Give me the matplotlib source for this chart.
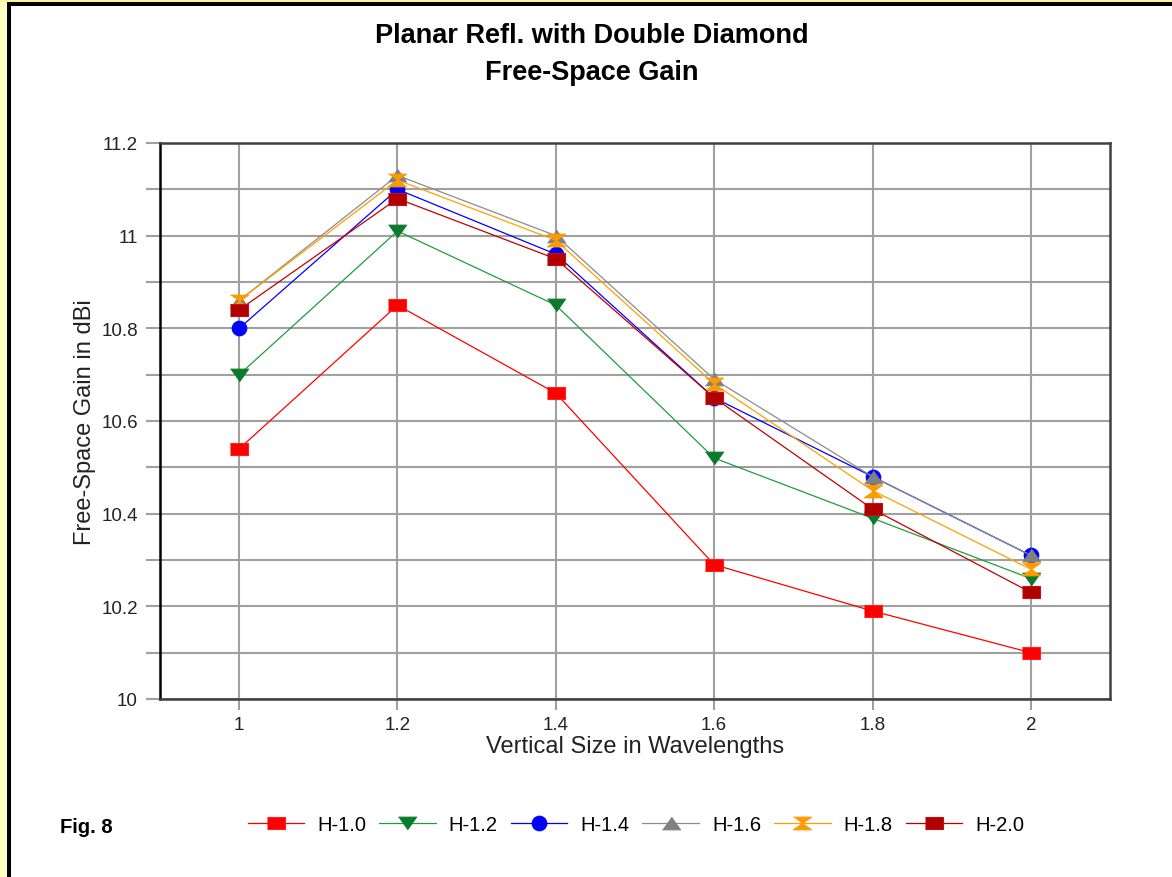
import matplotlib
matplotlib.use("Agg")
import matplotlib.pyplot as plt
from matplotlib.patches import Rectangle
import numpy as np

plt.rcParams['font.family'] = ['Liberation Sans', 'DejaVu Sans']

# vertical size in wavelengths
sizes = [1.0, 1.2, 1.4, 1.6, 1.8, 2.0]
x_labels = ['1', '1.2', '1.4', '1.6', '1.8', '2']

# y axis ticks
y_major = [10.0, 10.2, 10.4, 10.6, 10.8, 11.0, 11.2]
y_major_labels = ['10', '10.2', '10.4', '10.6', '10.8', '11', '11.2']
y_minor = [10.1, 10.3, 10.5, 10.7, 10.9, 11.1]

# free-space gain (dBi) per horizontal size
gain_h10 = [10.54, 10.85, 10.66, 10.29, 10.19, 10.10]
gain_h12 = [10.70, 11.01, 10.85, 10.52, 10.39, 10.26]
gain_h14 = [10.80, 11.10, 10.96, 10.65, 10.48, 10.31]
gain_h16 = [10.86, 11.13, 11.00, 10.69, 10.48, 10.31]
gain_h18 = [10.86, 11.12, 10.99, 10.68, 10.45, 10.28]
gain_h20 = [10.84, 11.08, 10.95, 10.65, 10.41, 10.23]

series_names = ['H-1.0', 'H-1.2', 'H-1.4', 'H-1.6', 'H-1.8', 'H-2.0']

# marker shapes (wide, flat like the original program draws them)
rect = [(-1, -0.7), (1, -0.7), (1, 0.7), (-1, 0.7)]
tri_down = [(-1, 0.7), (1, 0.7), (0, -0.7)]
tri_up = [(-1, -0.7), (1, -0.7), (0, 0.7)]
hourglass = [(-1, 0.7), (1, 0.7), (0, 0), (1, -0.7), (-1, -0.7), (0, 0)]

styles = [
    dict(color='#ff0000', mfc='#ff0000', mec='#ff2020', marker=rect, ms=13),
    dict(color='#1f9e3c', mfc='#0a7a2e', mec='#0a7a2e', marker=tri_down, ms=13),
    dict(color='#0000ff', mfc='#0000ff', mec='#0000ff', marker='o', ms=10.5),
    dict(color='#8c8c8c', mfc='#808080', mec='#808080', marker=tri_up, ms=13),
    dict(color='#ffa000', mfc='#ff9900', mec='#ff9900', marker=hourglass, ms=13),
    dict(color='#c00000', mfc='#b00000', mec='#c81010', marker=rect, ms=13),
]

all_gains = [gain_h10, gain_h12, gain_h14, gain_h16, gain_h18, gain_h20]

fig = plt.figure(figsize=(11.72, 8.78), dpi=100)
fig.patch.set_facecolor('white')

# yellow / black page frame on left and top
fig.add_artist(Rectangle((0, 0), 7 / 1172, 1, transform=fig.transFigure,
                         facecolor='#ffffc0', edgecolor='none'))
fig.add_artist(Rectangle((7 / 1172, 0), 4 / 1172, 1, transform=fig.transFigure,
                         facecolor='black', edgecolor='none'))
fig.add_artist(Rectangle((0, 1 - 3 / 878), 1, 3 / 878, transform=fig.transFigure,
                         facecolor='#fff3a0', edgecolor='none'))
fig.add_artist(Rectangle((7 / 1172, 1 - 7 / 878), 1, 4 / 878, transform=fig.transFigure,
                         facecolor='black', edgecolor='none'))

ax = fig.add_axes([160 / 1172, 1 - 700 / 878, 950 / 1172, 556 / 878])

for name, gains, st in zip(series_names, all_gains, styles):
    ax.plot(sizes, gains, label=name, lw=0.9, color=st['color'],
            marker=st['marker'], markersize=st['ms'],
            markerfacecolor=st['mfc'], markeredgecolor=st['mec'],
            markeredgewidth=0.8)

ax.set_xlim(0.9, 2.1)
ax.set_ylim(10.0, 11.2)
ax.set_xticks(sizes, x_labels)
ax.set_yticks(y_major, y_major_labels)
ax.set_yticks(y_minor, minor=True)

ax.grid(True, which='both', color='#a0a0a0', lw=1.5)
ax.set_axisbelow(True)
ax.tick_params(axis='both', which='both', color='#a0a0a0', width=1.5,
               labelsize=13.5, labelcolor='#222222')
ax.tick_params(axis='y', which='both', length=10, pad=6)
ax.tick_params(axis='x', length=8, pad=4)

for side in ['top', 'right', 'bottom']:
    ax.spines[side].set_color('#404040')
    ax.spines[side].set_linewidth(1.8)
ax.spines['left'].set_color('black')
ax.spines['left'].set_linewidth(1.8)

ax.set_xlabel('Vertical Size in Wavelengths', fontsize=17, color='#222222', labelpad=2)
ax.set_ylabel('Free-Space Gain in dBi', fontsize=17, color='#222222', labelpad=4)

fig.text(592 / 1172, 1 - 36 / 878, 'Planar Refl. with Double Diamond', ha='center', va='center',
         fontsize=19.5, fontweight='bold')
fig.text(592 / 1172, 1 - 73 / 878, 'Free-Space Gain', ha='center', va='center',
         fontsize=19.5, fontweight='bold')

fig.text(86 / 1172, 1 - 828 / 878, 'Fig. 8', ha='center', va='center',
         fontsize=14.5, fontweight='bold')

fig.legend(loc='center', bbox_to_anchor=(636 / 1172, 1 - 826 / 878), ncol=6,
           frameon=False, fontsize=14.5, handlelength=2.8, handletextpad=0.65,
           columnspacing=0.65, markerscale=1.0, borderpad=0, borderaxespad=0)

fig.savefig('out.png', dpi=100)
